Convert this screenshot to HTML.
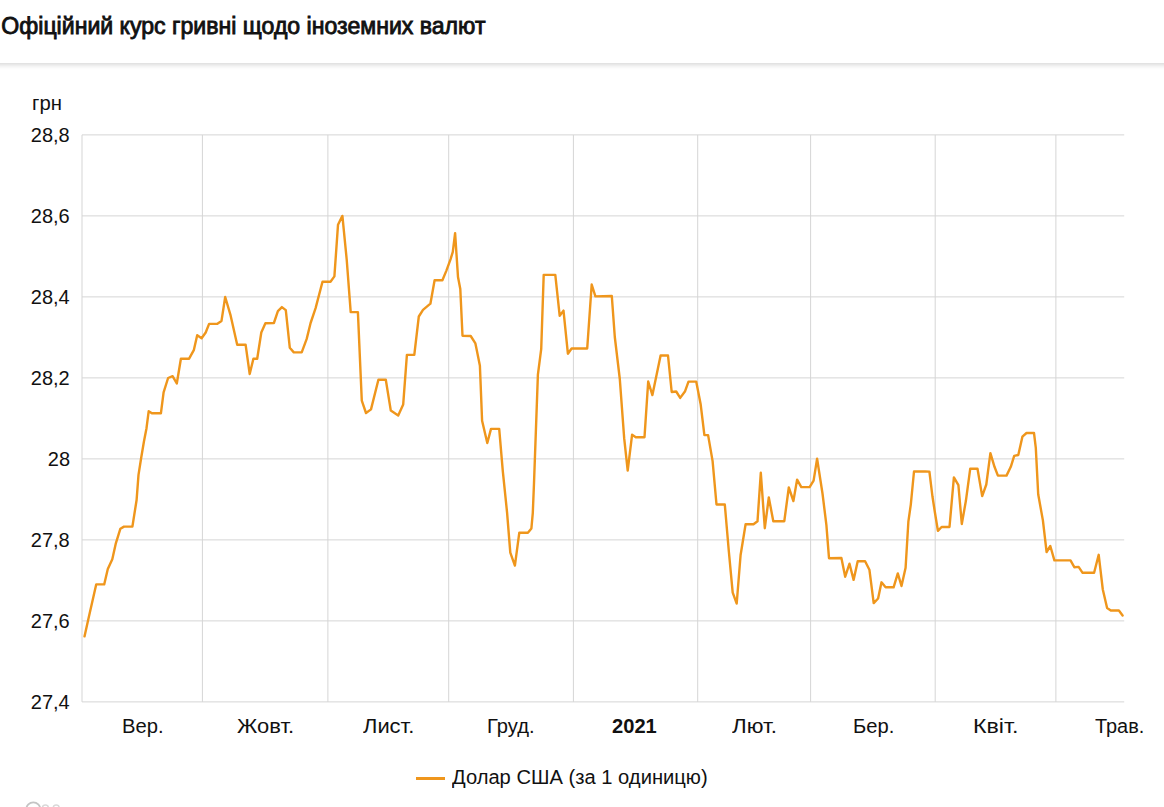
<!DOCTYPE html>
<html><head><meta charset="utf-8"><style>
html,body{margin:0;padding:0;background:#fff;width:1164px;height:807px;overflow:hidden;position:relative;font-family:"Liberation Sans",sans-serif;color:#111;}
.title{position:absolute;left:1.3px;top:15.3px;font-size:23.1px;line-height:23px;-webkit-text-stroke:0.85px #111;white-space:nowrap;color:#111;}
.hdr{position:absolute;left:-20px;top:0;width:1204px;height:63px;background:#fff;box-shadow:0 2px 5px rgba(0,0,0,0.16);}
.lab{position:absolute;font-size:20px;line-height:20px;white-space:nowrap;transform-origin:0 0;color:#111;}
.legl{position:absolute;left:416.2px;top:776.7px;width:28.6px;height:3px;background:#ef961c;}
svg{position:absolute;left:0;top:0;}
</style></head><body>
<div class="hdr"></div>
<div class="title">Офіційний курс гривні щодо іноземних валют</div>
<svg width="1164" height="807" viewBox="0 0 1164 807">
<g stroke="#d5d5d5" stroke-width="1" fill="none"><line x1="82.00" y1="134.90" x2="82.00" y2="701.90" /><line x1="202.40" y1="134.90" x2="202.40" y2="701.90" /><line x1="327.90" y1="134.90" x2="327.90" y2="701.90" /><line x1="448.70" y1="134.90" x2="448.70" y2="701.90" /><line x1="573.40" y1="134.90" x2="573.40" y2="701.90" /><line x1="697.70" y1="134.90" x2="697.70" y2="701.90" /><line x1="810.60" y1="134.90" x2="810.60" y2="701.90" /><line x1="935.20" y1="134.90" x2="935.20" y2="701.90" /><line x1="1055.90" y1="134.90" x2="1055.90" y2="701.90" /><line x1="82.00" y1="134.90" x2="1124.2" y2="134.90" /><line x1="82.00" y1="215.90" x2="1124.2" y2="215.90" /><line x1="82.00" y1="296.90" x2="1124.2" y2="296.90" /><line x1="82.00" y1="377.90" x2="1124.2" y2="377.90" /><line x1="82.00" y1="458.90" x2="1124.2" y2="458.90" /><line x1="82.00" y1="539.90" x2="1124.2" y2="539.90" /><line x1="82.00" y1="620.90" x2="1124.2" y2="620.90" /><line x1="82.00" y1="701.90" x2="1124.2" y2="701.90" /></g>
<polyline points="84.5,636.4 88.1,620.3 96.2,584.4 104.2,584.4 107.8,569.1 112.3,559.2 115.9,543.1 120.4,528.7 124,526.6 132.4,526.6 136.6,500 138.5,474.9 141.2,457.8 143.9,441.7 146.5,428.2 148.7,411.2 151.9,413.3 160.9,413.3 163.6,392.3 168.1,378 172.6,376.2 176.8,383.5 180.9,358.7 189.1,358.7 193.8,350.2 197.2,335.2 201.6,338.3 205.7,332.5 209.1,323.9 217,323.9 221.5,320.9 225.2,297 230.6,315.4 237.2,344.7 245.6,344.7 249.7,374 253.4,358.7 257.2,358.7 261.3,332.5 265.4,323.3 273.9,323 277.9,311.1 281.9,307.1 285.8,310.1 289.8,347.8 293.8,352.4 301.7,352.4 306.7,338.9 310.6,323 315.6,308.1 322.5,281.7 330.5,281.7 334.4,276.4 338,224.8 342.4,215.9 346.7,259.5 350.7,312.1 357.9,312.1 361.8,400.7 366,413 371,409.4 378.4,379.7 385.8,379.7 390.8,410.6 398.2,415.5 403.2,404.4 406.9,354.9 414.3,354.9 418.8,316.5 423,309.9 430.4,303.7 434.6,280.2 442.4,280.2 446.2,271.1 450.6,259.2 452.8,251.8 455.1,233.2 458,277 460.3,289 462.5,335.8 470.7,336 475.4,343.4 476.9,350.8 479.9,365.7 482.1,420.7 487.3,443 491,428.9 499.2,428.9 502.8,471.2 507.1,512.8 510.3,552.7 514.9,565.6 519.3,532.7 527.9,532.7 531.4,528.4 532.8,512.8 534,483.3 537.9,374.6 541.2,349.2 543.7,274.9 555.3,274.9 559.7,315.8 563.5,310.6 567.9,353.7 571.6,348.5 587.2,348.5 591.7,284.5 595.4,296.4 611.8,296 614.8,337 619.8,379 624.2,438.4 627.7,470.6 632.1,434.7 635.8,437.2 644.5,437.2 648.2,381.5 652.4,395.1 660.6,355.5 668,355.5 671.7,392 676.2,391.5 680.2,397.9 685.1,391.2 688.5,381.6 696.2,381.6 700.7,404.6 704.4,435.1 708.1,435.1 712.6,461.1 716.5,504.5 724.8,504.5 728.8,551 732.7,592.6 736.7,603.5 740.6,555 745.6,524.3 753.5,524.3 757.5,521.3 760.8,472.8 764.8,528.2 768.8,497.5 773.3,521.3 784.3,521.2 788.8,487.5 793.4,501 797.1,479.6 801.3,487.1 809.6,487.1 813.6,480.6 817.1,458.8 822.5,493.5 826.4,525.1 829,558.2 841.4,558 845.2,576.7 849.5,563.7 853.6,579.9 857.7,561.3 865.1,561.3 869.4,569.7 873.7,603.1 878.1,598.5 881.5,582.3 885.6,587.3 893.6,587.3 897.8,573.4 901.5,586 905.6,567.8 908.4,521.3 910.8,504.6 914,471.5 925.1,471.5 929.4,471.6 932.5,496.8 934.8,511.7 937.9,530.8 941.6,527 949.5,527 953.9,477.4 958.4,485.2 961.8,524 965.9,500.8 970.2,468.8 977.5,468.8 982.2,496.1 986.3,484.5 990.4,453.2 994.5,466.8 997.9,475.6 1006.5,475.6 1010.8,466.8 1014.2,455.9 1018.3,455 1022.4,436.7 1026.5,433 1034,433 1035.8,447.9 1038.2,494.3 1042.9,520.4 1046.6,552 1050.3,546 1054.4,560.3 1070.5,560.4 1074.3,567.2 1078.6,566.9 1082.6,572.8 1094.1,572.8 1098.7,554.8 1102.8,589.5 1107.1,608.1 1110.8,610.5 1118.9,610.5 1122.6,615.5" fill="none" stroke="#ef961c" stroke-width="2.4" stroke-linejoin="round" stroke-linecap="round"/>
<g fill="none" stroke="#c4c4c4" stroke-width="1.8"><circle cx="33.3" cy="809.3" r="7"/></g><g fill="none" stroke="#d8d8d8" stroke-width="1.5"><circle cx="45.4" cy="807.8" r="2.9"/><circle cx="56.2" cy="807.8" r="2.9"/></g>
</svg>
<div class="lab" style="left:122.08px;top:716.30px;transform:scaleX(1.0108);">Вер.</div><div class="lab" style="left:236.90px;top:716.30px;transform:scaleX(1.0980);">Жовт.</div><div class="lab" style="left:363.40px;top:716.30px;transform:scaleX(1.0956);">Лист.</div><div class="lab" style="left:486.79px;top:716.30px;transform:scaleX(1.0070);">Груд.</div><div class="lab" style="left:612.39px;top:716.30px;transform:scaleX(1.0070);font-weight:bold;">2021</div><div class="lab" style="left:732.00px;top:716.30px;transform:scaleX(1.1179);">Лют.</div><div class="lab" style="left:852.58px;top:716.30px;transform:scaleX(1.0081);">Бер.</div><div class="lab" style="left:972.58px;top:716.30px;transform:scaleX(1.1583);">Квіт.</div><div class="lab" style="left:1094.50px;top:716.30px;transform:scaleX(0.9958);">Трав.</div><div class="lab" style="left:30.80px;top:124.50px;">28,8</div><div class="lab" style="left:30.80px;top:205.50px;">28,6</div><div class="lab" style="left:30.80px;top:286.50px;">28,4</div><div class="lab" style="left:30.80px;top:367.50px;">28,2</div><div class="lab" style="left:47.80px;top:448.50px;">28</div><div class="lab" style="left:30.80px;top:529.50px;">27,8</div><div class="lab" style="left:30.80px;top:610.50px;">27,6</div><div class="lab" style="left:30.80px;top:691.50px;">27,4</div><div class="lab" style="left:31.58px;top:92.90px;transform:scaleX(1.0160);">грн</div><div class="lab" style="left:451.90px;top:767.40px;transform:scaleX(1.0080);">Долар США (за 1 одиницю)</div>
<div class="legl"></div>
</body></html>
